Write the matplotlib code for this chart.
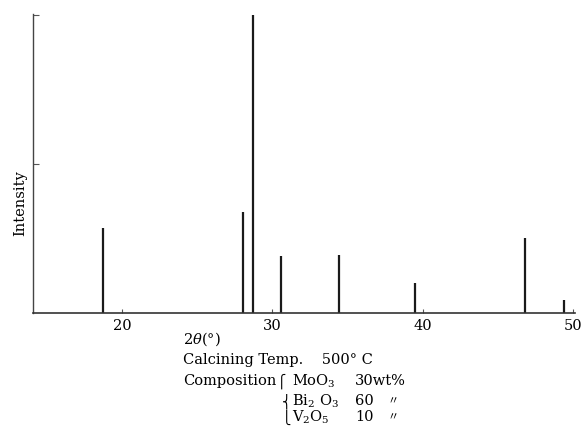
import matplotlib.pyplot as plt

plt.rcParams['font.family'] = ['DejaVu Serif', 'Liberation Serif']
plt.rcParams['mathtext.fontset'] = 'dejavuserif'

# diffraction peaks: 2-theta position and relative intensity
two_theta = [18.75, 28.05, 28.7, 30.6, 34.4, 39.5, 46.75, 49.35]
intensity = [28.5, 34.0, 100.0, 19.0, 19.5, 10.0, 25.0, 4.5]
x_ticks = [20, 30, 40, 50]
x_range = (14.1, 50.1)

fig = plt.figure(figsize=(5.84, 4.28), dpi=100)
ax = fig.add_axes([33 / 584, 1 - 313 / 428, 542 / 584, 299 / 428])

ax.vlines(two_theta, 0, intensity, colors='#1a1a1a', linewidth=1.6)

ax.set_xlim(*x_range)
ax.set_ylim(0, 100.3)
ax.spines['top'].set_visible(False)
ax.spines['right'].set_visible(False)
ax.spines['left'].set_color('#444444')
ax.spines['bottom'].set_color('#333333')
ax.spines['left'].set_linewidth(1.0)
ax.spines['bottom'].set_linewidth(1.2)

ax.set_xticks(x_ticks)
ax.set_xticklabels([str(t) for t in x_ticks], fontsize=10.5)
ax.tick_params(axis='x', direction='in', length=3, pad=4, color='#555555')
ax.set_yticks([50, 100])
ax.set_yticklabels([])
ax.tick_params(axis='y', direction='in', length=4, color='#555555')

ax.set_ylabel('Intensity', fontsize=10.5)
ax.yaxis.set_label_coords(-0.01, 0.368)

# conditions printed under the axis
fs = 10.5
fig.text(183 / 584, 1 - 339 / 428, r'2$\theta$(°)', fontsize=fs, va='center')
fig.text(183 / 584, 1 - 360 / 428, 'Calcining Temp.    500° C', fontsize=fs, va='center')
fig.text(183 / 584, 1 - 381 / 428, 'Composition', fontsize=fs, va='center')

braces = ['⎧', '⎨', '⎩']
brace_x = [277, 282, 282]
oxides = [r'MoO$_3$', r'Bi$_2$ O$_3$', r'V$_2$O$_5$']
amounts = ['30wt%', '60', '10']
rows_y = [381, 401, 417]
for brace, bx, oxide, amount, y in zip(braces, brace_x, oxides, amounts, rows_y):
    yf = 1 - y / 428
    fig.text(bx / 584, yf, brace, fontsize=9, va='center',
             family=['DejaVu Sans', 'Noto Sans CJK JP'])
    fig.text(292 / 584, yf, oxide, fontsize=fs, va='center')
    fig.text(355 / 584, yf, amount, fontsize=fs, va='center')
    if amount != amounts[0]:
        fig.text(387 / 584, yf, '〃', fontsize=8, va='center',
                 family=['Noto Sans CJK JP'])

fig.savefig('out.png', dpi=100)
